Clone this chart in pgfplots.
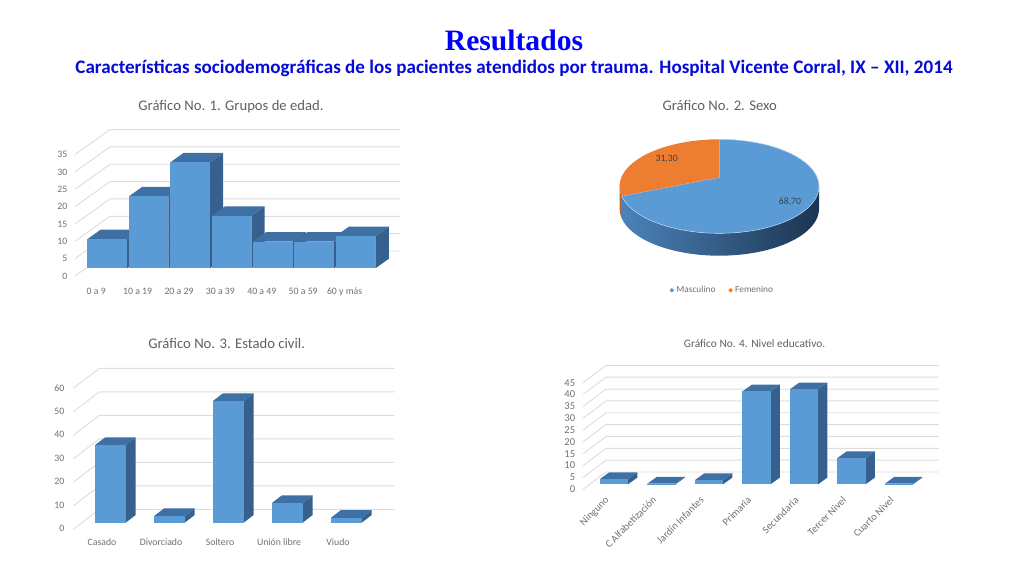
\documentclass[border=0pt]{standalone}
\usepackage{fontspec}
\setmainfont{Carlito}
\newfontfamily\serifb{Liberation Serif}
\usepackage{pgfplots}
\pgfplotsset{compat=1.18}
\definecolor{barfront}{HTML}{5B9BD5}
\definecolor{bartop}{HTML}{3F70A3}
\definecolor{barside}{HTML}{36618F}
\definecolor{gridc}{HTML}{DDDDDD}
\definecolor{lab}{HTML}{707070}
\definecolor{ttl}{HTML}{606060}
\definecolor{pieo}{HTML}{ED7D31}
\definecolor{pieod}{HTML}{B8652B}
\pgfplotsset{bar3/.style={anchor=origin,clip=false,axis line style={draw=none},tick style={draw=none},
  major tick length=0pt,/pgf/number format/assume math mode=true,
  tick label style={text=lab},xtick pos=bottom,ytick pos=left}}
% one 3D bar: position, value (uses \hw half width, \ddx \ddy depth, data units)
\newcommand\barD[2]{%
 \pgfmathsetmacro\xl{#1-\hw}\pgfmathsetmacro\xr{#1+\hw}%
 \pgfmathsetmacro\xrd{\xr+\ddx}\pgfmathsetmacro\xld{\xl+\ddx}%
 \pgfmathsetmacro\vd{#2+\ddy}%
 \edef\tmp{\noexpand\addplot[fill=barside,draw=none,forget plot] coordinates {(\xr,0)(\xrd,\ddy)(\xrd,\vd)(\xr,#2)};
  \noexpand\addplot[fill=bartop,draw=none,forget plot] coordinates {(\xl,#2)(\xld,\vd)(\xrd,\vd)(\xr,#2)};
  \noexpand\addplot[fill=barfront,draw=none,forget plot] coordinates {(\xl,0)(\xr,0)(\xr,#2)(\xl,#2)};}\tmp}
% one wall grid line: value (uses \gxf \gxb \gxr x positions, \gyf \gyb y offsets)
\newcommand\gridL[1]{%
 \pgfmathsetmacro\ya{#1+\gyf}\pgfmathsetmacro\yb{#1+\gyb}%
 \edef\tmp{\noexpand\addplot[gridc,line width=0.7pt,forget plot] coordinates {(\gxf,\ya)(\gxb,\yb)(\gxr,\yb)};}\tmp}
% pie outline points
\newcommand\arcpts[5]{% result, from, to, steps, yoffset
 \xdef#1{}%
 \foreach \k in {0,...,#4}{%
  \pgfmathsetmacro\t{#2+(#3-#2)*(\k/#4)}%
  \pgfmathsetmacro\ex{99.7*cos(\t)}\pgfmathsetmacro\ey{47*sin(\t)+#5}%
  \xdef#1{#1(\ex,\ey)}}}
\arcpts\arcOr{90}{191.9}{40}{0}
\arcpts\arcBl{191.9}{450}{90}{0}
\arcpts\arcFr{191.9}{360}{60}{0}
\arcpts\arcBk{360}{191.9}{60}{-22.4}
\arcpts\arcOa{180}{191.9}{6}{0}
\arcpts\arcOb{191.9}{180}{6}{-22.4}
\begin{document}
\begin{tikzpicture}
\path[use as bounding box] (0,0) rectangle (768pt,-432pt);
\node[font=\serifb\bfseries\fontsize{22.2pt}{24pt}\selectfont,text=blue] at (514*0.75pt,-40*0.75pt) {Resultados};
\node[font=\bfseries\fontsize{14.33pt}{16pt}\selectfont,text={rgb,255:red,5;green,10;blue,215}] at (514*0.75pt,-68*0.75pt) {Características sociodemográficas de los pacientes atendidos por trauma. Hospital Vicente Corral, IX – XII, 2014};
\node[font=\fontsize{11pt}{13pt}\selectfont,text=ttl] at (231*0.75pt,-106.7*0.75pt) {Gráfico No. 1. Grupos de edad.};
\node[font=\fontsize{11pt}{13pt}\selectfont,text=ttl] at (719.7*0.75pt,-105.5*0.75pt) {Gráfico No. 2. Sexo};
\node[font=\fontsize{11pt}{13pt}\selectfont,text=ttl] at (226.7*0.75pt,-343.5*0.75pt) {Gráfico No. 3. Estado civil.};
\node[font=\fontsize{8.55pt}{10pt}\selectfont,text=ttl] at (754.5*0.75pt,-343.5*0.75pt) {Gráfico No. 4. Nivel educativo.};

% ---- Chart 1
\begin{axis}[bar3,at={(107.2*0.75pt,-268.3*0.75pt)},x=31.05pt,y=2.6025pt,
  xmin=-0.85,xmax=7.1,ymin=-4.2,ymax=42,
  xtick={0,1,2,3,4,5,6},xticklabels={0 a 9,10 a 19,20 a 29,30 a 39,40 a 49,50 a 59,60 y más},
  ytick={0,5,10,15,20,25,30,35},
  xticklabel style={font=\fontsize{7.35pt}{8pt}\selectfont,xshift=-8.25pt,text height=5pt,text depth=1.5pt},
  yticklabel style={font=\fontsize{7.35pt}{8pt}\selectfont,yshift=-5.78pt}]
\def\hw{0.4795}\def\ddx{0.3213}\def\ddy{2.74}
\def\gxf{-0.778}\def\gxb{0.068}\def\gxr{7.072}\def\gyf{-2.22}\def\gyb{4.99}
\pgfplotsinvokeforeach{0,5,10,15,20,25,30,35}{\gridL{#1}}
\barD{0}{8.4}\barD{1}{20.7}\barD{2}{30.5}\barD{3}{15.1}\barD{4}{7.7}\barD{5}{7.7}\barD{6}{9.3}
\end{axis}

% ---- Chart 2: pie
\begin{axis}[anchor=origin,at={(719.3*0.75pt,-186.3*0.75pt)},x=0.75pt,y=0.75pt,
  xmin=-110,xmax=110,ymin=-110,ymax=60,clip=false,hide axis,
  legend style={at={(0.516,0.0355)},anchor=center,draw=none,fill=none,legend columns=2,
   font=\fontsize{7pt}{8pt}\selectfont,text=lab,/tikz/every even column/.append style={column sep=8pt}}]
\edef\tmp{\noexpand\addplot[fill=pieod,draw=none,forget plot] coordinates {\arcOa\arcOb};
 \noexpand\addplot[left color={rgb,255:red,76;green,131;blue,186},middle color={rgb,255:red,47;green,88;blue,130},right color={rgb,255:red,27;green,52;blue,80},draw=none,forget plot] coordinates {\arcFr\arcBk};
 \noexpand\addplot[fill=barfront,draw={rgb,255:red,184;green,211;blue,236},line width=0.4pt,forget plot] coordinates {(0,9)\arcBl(0,9)};
 \noexpand\addplot[fill=pieo,draw=none,forget plot] coordinates {(0,9)\arcOr(0,9)};}\tmp
\addlegendimage{only marks,mark=*,mark size=1.4pt,mark options={draw=none,fill=barfront},barfront}
\addlegendentry{Masculino}
\addlegendimage{only marks,mark=*,mark size=1.4pt,mark options={draw=none,fill=pieo},pieo}
\addlegendentry{Femenino}
\node[font=\fontsize{7.3pt}{8pt}\selectfont,text={rgb,255:red,64;green,64;blue,64}] at (axis cs:70.7,-15.7) {68,70};
\node[font=\fontsize{7.3pt}{8pt}\selectfont,text={rgb,255:red,64;green,64;blue,64}] at (axis cs:-52.6,27.3) {31,30};
\end{axis}

% ---- Chart 3
\begin{axis}[bar3,at={(110.3*0.75pt,-522.7*0.75pt)},x=44.25pt,y=1.7625pt,
  xmin=-0.7,xmax=4.85,ymin=-4.75,ymax=66,
  xtick={0,1,2,3,4},xticklabels={Casado,Divorciado,Soltero,Unión libre,Viudo},
  ytick={0,10,20,30,40,50,60},
  xticklabel style={font=\fontsize{7.35pt}{8pt}\selectfont,xshift=-6.2pt,text height=5pt,text depth=1.5pt},
  yticklabel style={font=\fontsize{7.35pt}{8pt}\selectfont,yshift=-4.6pt}]
\def\hw{0.26}\def\ddx{0.1695}\def\ddy{3.28}
\def\gxf{-0.627}\def\gxb{-0.186}\def\gxr{4.813}\def\gyf{-2.8}\def\gyb{5.7}
\pgfplotsinvokeforeach{0,10,20,30,40,50,60}{\gridL{#1}}
\barD{0}{33}\barD{1}{2.8}\barD{2}{51.8}\barD{3}{8.4}\barD{4}{2.1}
\end{axis}

% ---- Chart 4
\begin{axis}[bar3,at={(614*0.75pt,-484.3*0.75pt)},x=35.625pt,y=1.7775pt,
  xmin=-0.72,xmax=6.85,ymin=-3,ymax=50,
  xtick={0,1,2,3,4,5,6},xticklabels={Ninguno,C Alfabetización,Jardín Infantes,Primaria,Secundaria,Tercer Nivel,Cuarto Nivel},
  xticklabel style={font=\fontsize{7.8pt}{9pt}\selectfont,rotate=45,anchor=north east,xshift=-4pt,yshift=6.3pt},
  ytick={0,5,10,15,20,25,30,35,40,45},
  yticklabel style={font=\fontsize{7.9pt}{8pt}\selectfont,yshift=-3.75pt}]
\def\hw{0.295}\def\ddx{0.196}\def\ddy{2.83}
\def\gxf{-0.65}\def\gxb{-0.168}\def\gxr{6.84}\def\gyf{-2.11}\def\gyb{5.2}
\pgfplotsinvokeforeach{0,5,10,15,20,25,30,35,40,45}{\gridL{#1}}
\barD{0}{2.25}\barD{1}{0.3}\barD{2}{1.8}\barD{3}{39.2}\barD{4}{40.1}\barD{5}{11.1}\barD{6}{0.3}
\end{axis}
\end{tikzpicture}
\end{document}
